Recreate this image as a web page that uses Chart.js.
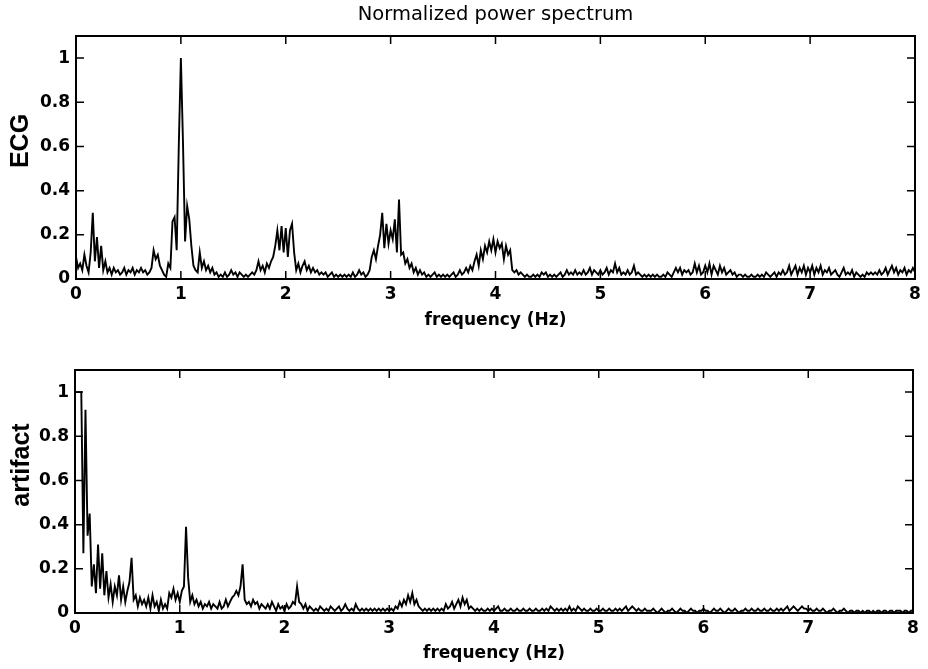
<!DOCTYPE html>
<html>
<head>
<meta charset="utf-8">
<script src="https://cdn.jsdelivr.net/npm/chart.js@4.4.0/dist/chart.umd.min.js"></script>
<style>
  html,body{margin:0;padding:0;background:#fff;}
  #page{position:relative;width:928px;height:669px;overflow:hidden;}
  .panel{position:absolute;left:0;width:928px;}
  #topPanel{top:0;height:334px;}
  #bottomPanel{top:334px;height:335px;}
</style>
</head>
<body>
<div id="page">
  <div class="panel" id="topPanel"><canvas id="ecgChart"></canvas></div>
  <div class="panel" id="bottomPanel"><canvas id="artifactChart"></canvas></div>
</div>
<script>
/*
  Normalized power spectrum, two stacked panels (ECG / artifact)
  values, one value every 0.02 Hz from 0 to 8 Hz
*/

const chartTitle = "Normalized power spectrum";
const xTitle = "frequency (Hz)";
const binWidth = 0.02; // Hz between two spectrum values
const xTicks = [0,1,2,3,4,5,6,7,8];
const yTicks = [0,0.2,0.4,0.6,0.8,1];

// one row = 0.5 Hz
const ecgPower = [
  0.10,0.05,0.07,0.04,0.11,0.06,0.03,0.12,0.30,0.08,0.19,0.05,0.15,0.04,0.08,0.03,0.05,0.02,0.05,0.03,0.04,0.02,0.03,0.05,0.02,
  0.04,0.03,0.05,0.02,0.04,0.03,0.05,0.03,0.04,0.02,0.03,0.05,0.13,0.09,0.11,0.06,0.04,0.02,0.01,0.07,0.05,0.26,0.28,0.13,0.60,
  1.00,0.62,0.17,0.33,0.27,0.15,0.06,0.04,0.03,0.12,0.05,0.08,0.04,0.06,0.03,0.05,0.02,0.03,0.01,0.02,0.01,0.03,0.01,0.02,0.04,
  0.02,0.03,0.01,0.03,0.02,0.01,0.02,0.01,0.02,0.03,0.02,0.04,0.08,0.04,0.06,0.03,0.07,0.05,0.08,0.10,0.15,0.22,0.13,0.24,0.12,
  0.23,0.10,0.22,0.25,0.12,0.04,0.07,0.03,0.06,0.08,0.04,0.06,0.03,0.05,0.03,0.04,0.02,0.03,0.02,0.03,0.01,0.02,0.03,0.01,0.02,
  0.01,0.02,0.01,0.02,0.01,0.02,0.01,0.03,0.01,0.02,0.04,0.02,0.03,0.01,0.02,0.04,0.10,0.13,0.09,0.15,0.20,0.30,0.14,0.25,0.16,
  0.22,0.18,0.27,0.12,0.36,0.11,0.12,0.07,0.09,0.05,0.07,0.03,0.05,0.02,0.04,0.02,0.03,0.01,0.02,0.01,0.02,0.03,0.01,0.02,0.01,
  0.02,0.01,0.02,0.01,0.02,0.03,0.01,0.02,0.04,0.02,0.03,0.05,0.03,0.06,0.04,0.08,0.11,0.06,0.13,0.09,0.15,0.12,0.17,0.13,0.18,
  0.12,0.17,0.14,0.16,0.09,0.15,0.11,0.13,0.04,0.03,0.04,0.02,0.03,0.02,0.01,0.02,0.01,0.01,0.02,0.01,0.02,0.01,0.03,0.02,0.03,
  0.01,0.02,0.01,0.02,0.01,0.02,0.03,0.01,0.02,0.04,0.02,0.03,0.02,0.04,0.02,0.03,0.02,0.04,0.02,0.03,0.05,0.02,0.04,0.03,0.02,
  0.04,0.02,0.03,0.05,0.02,0.04,0.03,0.07,0.03,0.05,0.02,0.03,0.02,0.04,0.02,0.03,0.06,0.02,0.03,0.02,0.01,0.02,0.01,0.02,0.01,
  0.02,0.01,0.02,0.01,0.01,0.02,0.01,0.03,0.02,0.01,0.03,0.05,0.03,0.05,0.02,0.04,0.03,0.04,0.02,0.03,0.07,0.03,0.06,0.02,0.03,
  0.06,0.03,0.07,0.02,0.06,0.04,0.02,0.06,0.03,0.05,0.02,0.03,0.04,0.02,0.03,0.01,0.02,0.02,0.01,0.02,0.01,0.01,0.02,0.01,0.01,
  0.02,0.01,0.02,0.01,0.03,0.02,0.01,0.02,0.03,0.01,0.03,0.02,0.04,0.02,0.03,0.06,0.02,0.04,0.06,0.02,0.05,0.03,0.06,0.02,0.05,
  0.03,0.06,0.02,0.05,0.03,0.06,0.02,0.04,0.03,0.05,0.02,0.03,0.04,0.02,0.01,0.03,0.05,0.02,0.03,0.02,0.04,0.01,0.03,0.02,0.01,
  0.02,0.01,0.03,0.02,0.03,0.02,0.03,0.02,0.04,0.02,0.03,0.05,0.02,0.04,0.06,0.03,0.05,0.02,0.04,0.03,0.05,0.02,0.04,0.03,0.05,
  0.03
];

const artifactPower = [
  1.00,1.00,1.00,1.00,0.27,0.92,0.35,0.45,0.12,0.22,0.09,0.31,0.11,0.27,0.08,0.19,0.07,0.13,0.05,0.12,0.08,0.17,0.06,0.12,0.05,
  0.10,0.14,0.25,0.06,0.08,0.03,0.07,0.04,0.06,0.03,0.07,0.02,0.08,0.03,0.05,0.01,0.06,0.02,0.04,0.02,0.09,0.07,0.11,0.06,0.09,
  0.05,0.10,0.12,0.39,0.16,0.05,0.08,0.04,0.06,0.03,0.05,0.02,0.04,0.03,0.05,0.02,0.04,0.03,0.02,0.05,0.02,0.03,0.06,0.03,0.05,
  0.07,0.08,0.10,0.08,0.12,0.22,0.06,0.04,0.05,0.03,0.06,0.04,0.05,0.02,0.04,0.03,0.02,0.04,0.02,0.05,0.03,0.01,0.04,0.02,0.03,
  0.01,0.04,0.02,0.03,0.05,0.04,0.12,0.05,0.04,0.02,0.04,0.01,0.03,0.02,0.01,0.02,0.01,0.03,0.02,0.01,0.02,0.01,0.03,0.02,0.01,
  0.02,0.03,0.01,0.02,0.04,0.02,0.01,0.02,0.01,0.04,0.02,0.01,0.02,0.01,0.02,0.01,0.02,0.01,0.02,0.01,0.02,0.01,0.02,0.01,0.02,
  0.01,0.02,0.01,0.03,0.02,0.05,0.03,0.06,0.04,0.08,0.05,0.09,0.04,0.06,0.03,0.02,0.01,0.02,0.01,0.02,0.01,0.02,0.01,0.02,0.01,
  0.02,0.01,0.04,0.02,0.03,0.05,0.02,0.04,0.06,0.03,0.07,0.04,0.06,0.02,0.03,0.02,0.01,0.02,0.01,0.02,0.01,0.01,0.02,0.01,0.02,
  0.01,0.02,0.03,0.01,0.01,0.02,0.01,0.01,0.02,0.01,0.01,0.02,0.01,0.01,0.02,0.01,0.01,0.02,0.01,0.01,0.02,0.01,0.01,0.02,0.01,
  0.02,0.01,0.03,0.02,0.01,0.02,0.01,0.02,0.01,0.02,0.01,0.03,0.01,0.02,0.01,0.03,0.02,0.01,0.02,0.01,0.01,0.02,0.01,0.01,0.02,
  0.01,0.01,0.02,0.01,0.01,0.02,0.01,0.01,0.02,0.01,0.02,0.01,0.02,0.03,0.01,0.02,0.03,0.02,0.01,0.02,0.01,0.01,0.02,0.01,0.01,
  0.01,0.02,0.01,0.00,0.01,0.02,0.01,0.00,0.01,0.01,0.02,0.01,0.00,0.01,0.02,0.01,0.01,0.00,0.01,0.02,0.01,0.01,0.00,0.01,0.01,
  0.02,0.01,0.01,0.00,0.01,0.02,0.01,0.01,0.02,0.01,0.00,0.01,0.02,0.01,0.01,0.02,0.01,0.00,0.01,0.01,0.02,0.01,0.01,0.02,0.01,
  0.01,0.02,0.01,0.01,0.02,0.01,0.01,0.02,0.01,0.01,0.02,0.01,0.02,0.01,0.02,0.03,0.01,0.02,0.03,0.02,0.01,0.02,0.03,0.02,0.02,
  0.01,0.02,0.01,0.01,0.02,0.01,0.01,0.02,0.01,0.00,0.01,0.01,0.02,0.01,0.00,0.01,0.01,0.02,0.01,0.00,0.01,0.01,0.00,0.01,0.01,
  0.00,0.01,0.00,0.01,0.01,0.00,0.01,0.00,0.01,0.01,0.00,0.01,0.01,0.00,0.01,0.01,0.00,0.01,0.01,0.01,0.00,0.01,0.01,0.00,0.01,
  0.01
];

const TICK_LEN = 8;

function toPoints(values){
  return values.map((v,i)=>({x: Math.round(i*binWidth*100)/100, y: v}));
}

// MATLAB style box: frame, ticks pointing inward, title and side label
const matlabBox = {
  id: "matlabBox",
  afterDraw(chart, args, opts){
    const {ctx, chartArea:a, scales} = chart;
    ctx.save();
    ctx.strokeStyle = "#000";
    ctx.lineWidth = 2;
    ctx.strokeRect(a.left, a.top, a.right-a.left, a.bottom-a.top);

    ctx.lineWidth = 1.5;
    ctx.beginPath();
    xTicks.forEach(v=>{
      const x = scales.x.getPixelForValue(v);
      ctx.moveTo(x, a.bottom); ctx.lineTo(x, a.bottom-TICK_LEN);
      ctx.moveTo(x, a.top); ctx.lineTo(x, a.top+TICK_LEN);
    });
    yTicks.forEach(v=>{
      const y = scales.y.getPixelForValue(v);
      ctx.moveTo(a.left, y); ctx.lineTo(a.left+TICK_LEN, y);
      ctx.moveTo(a.right, y); ctx.lineTo(a.right-TICK_LEN, y);
    });
    ctx.stroke();

    ctx.fillStyle = "#000";
    ctx.textAlign = "center";
    ctx.textBaseline = "middle";
    if(opts.title){
      ctx.font = "19.5px 'DejaVu Sans'";
      ctx.fillText(opts.title, (a.left+a.right)/2, a.top-21);
    }
    if(opts.side){
      ctx.translate(opts.sideX, opts.sideY);
      ctx.rotate(-Math.PI/2);
      ctx.font = "bold 25px 'Liberation Sans'";
      ctx.fillText(opts.side, 0, 0);
    }
    ctx.restore();
  }
};

function makeChart(canvasId, values, box){
  return new Chart(document.getElementById(canvasId),{
    type:"line",
    data:{
      datasets:[{
        data: toPoints(values),
        borderColor:"#000",
        borderWidth:1.9,
        pointRadius:0,
        tension:0,
        fill:false
      }]
    },
    options:{
      responsive:true,
      maintainAspectRatio:false,
      animation:false,
      events:[],
      layout:{padding:{top:36, right:box.right, left:0, bottom:0}},
      plugins:{
        legend:{display:false},
        tooltip:{enabled:false},
        matlabBox:box
      },
      scales:{
        x:{
          type:"linear",
          min:0, max:8,
          grid:{display:false, drawTicks:false},
          border:{display:false},
          ticks:{stepSize:1, padding:5, color:"#000", font:{family:"'DejaVu Sans'", size:17, weight:"bold"}},
          title:{display:true, text:xTitle, color:"#000", padding:{top:0,bottom:box.xTitlePad},
                 font:{family:"'DejaVu Sans'", size:17, weight:"bold"}},
          afterFit(scale){ scale.height = box.xHeight; }
        },
        y:{
          min:0, max:1.1,
          grid:{display:false, drawTicks:false},
          border:{display:false},
          ticks:{stepSize:0.2, includeBounds:false, padding:6, color:"#000",
                 font:{family:"'DejaVu Sans'", size:17, weight:"bold"},
                 callback:v=>String(Number(v.toFixed(1)))},
          afterFit(scale){ scale.width = box.left; }
        }
      }
    },
    plugins:[matlabBox]
  });
}

makeChart("ecgChart", ecgPower, {
  title: chartTitle, side: "ECG", sideX: 21, sideY: 141,
  left: 76, right: 13, xHeight: 55, xTitlePad: 3
});

makeChart("artifactChart", artifactPower, {
  title: null, side: "artifact", sideX: 22, sideY: 131,
  left: 75, right: 15, xHeight: 56, xTitlePad: 5
});
</script>
</body>
</html>
